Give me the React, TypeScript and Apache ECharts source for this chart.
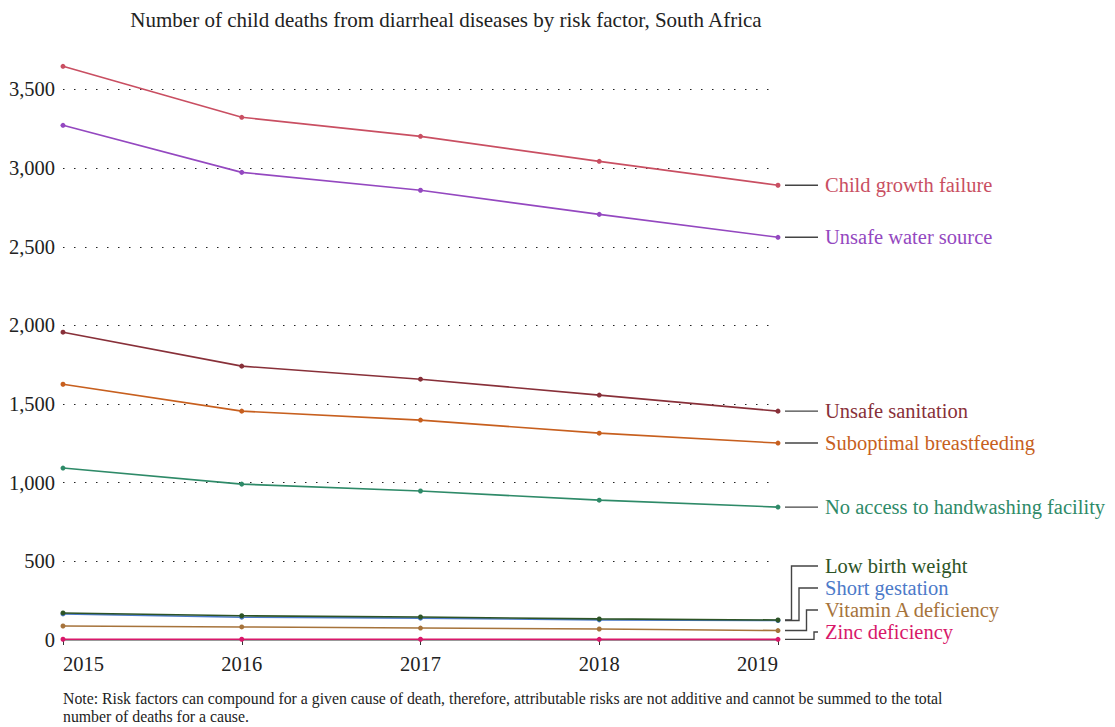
import React, { useEffect, useRef } from "react";
import * as echarts from "echarts";

const years = ["2015", "2016", "2017", "2018", "2019"];
const yTicks = [0, 500, 1000, 1500, 2000, 2500, 3000, 3500];

const childGrowth = [3647, 3323, 3202, 3043, 2891];
const unsafeWater = [3272, 2973, 2859, 2706, 2560];
const unsafeSanitation = [1957, 1741, 1658, 1557, 1455];
const breastfeeding = [1626, 1455, 1398, 1315, 1252];
const handwashing = [1093, 991, 947, 889, 845];
const lowBirthWeight = [172, 154, 146, 134, 127];
const shortGestation = [166, 145, 139, 128, 124];
const vitaminA = [89, 83, 76, 70, 60];
const zinc = [5, 5, 5, 4, 4];

const seriesNames = [
  "Child growth failure",
  "Unsafe water source",
  "Unsafe sanitation",
  "Suboptimal breastfeeding",
  "No access to handwashing facility",
  "Low birth weight",
  "Short gestation",
  "Vitamin A deficiency",
  "Zinc deficiency",
];
const seriesData = [
  childGrowth,
  unsafeWater,
  unsafeSanitation,
  breastfeeding,
  handwashing,
  lowBirthWeight,
  shortGestation,
  vitaminA,
  zinc,
];
const seriesColors = [
  "#C94F62",
  "#9448C0",
  "#883039",
  "#C75F1E",
  "#2E8A68",
  "#2D5426",
  "#4C7AC9",
  "#A6733B",
  "#D8186A",
];

const FONT = "Liberation Serif";

export default function App() {
  const ref = useRef<HTMLDivElement>(null);

  useEffect(() => {
    document.body.style.margin = "0";
    const el = ref.current!;
    const chart = echarts.init(el, undefined, { renderer: "svg" });

    const option: any = {
      animation: false,
      backgroundColor: "#ffffff",
      textStyle: { fontFamily: FONT },
      title: {
        text: "Number of child deaths from diarrheal diseases by risk factor, South Africa",
        left: 441,
        textAlign: "center",
        top: 4,
        textStyle: { fontFamily: FONT, fontSize: 21, fontWeight: "normal", color: "#222" },
      },
      grid: { left: 63, right: 337, top: 58, bottom: 87, containLabel: false },
      xAxis: {
        type: "category",
        data: years,
        boundaryGap: false,
        axisLine: { show: true, lineStyle: { color: "#999", width: 1 } },
        axisTick: { show: true, length: 5, lineStyle: { color: "#333" } },
        axisLabel: {
          fontFamily: FONT,
          fontSize: 20.5,
          color: "#222",
          margin: 13,
          alignMinLabel: "left",
          alignMaxLabel: "right",
        },
        splitLine: { show: false },
      },
      yAxis: {
        type: "value",
        min: 0,
        max: 3700,
        interval: 500,
        axisLine: { show: false },
        axisTick: { show: false },
        axisLabel: {
          fontFamily: FONT,
          fontSize: 20.5,
          color: "#222",
          margin: 8,
          showMaxLabel: false,
          formatter: (v: number) =>
            yTicks.indexOf(v) >= 0 ? v.toLocaleString("en-US") : "",
        },
        splitLine: {
          show: true,
          showMinLine: false,
          showMaxLine: false,
          lineStyle: { color: "#222", type: [1.5, 9.5], width: 1.2 },
        },
      },
      series: seriesNames.map((name, i) => ({
        name,
        type: "line",
        data: seriesData[i],
        symbol: "circle",
        symbolSize: 5,
        lineStyle: { width: 1.6, color: seriesColors[i] },
        itemStyle: { color: seriesColors[i] },
        z: 10 - i,
      })),
    };
    chart.setOption(option);

    // Build right-side labels with connectors from the library's scales
    const pts = seriesData.map((d, i) => {
      const p = chart.convertToPixel({ xAxisIndex: 0, yAxisIndex: 0 }, [
        d.length - 1,
        d[d.length - 1],
      ]) as number[];
      return { i, x: p[0], y: p[1] };
    });
    const sorted = [...pts].sort((a, b) => b.y - a.y); // bottom first
    const gap = 22;
    const zeroY = chart.convertToPixel({ yAxisIndex: 0 }, 0) as unknown as number;
    const bottomLimit = zeroY - 8;
    let prev = Infinity;
    const labelY: Record<number, number> = {};
    sorted.forEach((p) => {
      const ly = Math.min(p.y, prev - gap, bottomLimit);
      labelY[p.i] = ly;
      prev = ly;
    });
    const displaced = pts
      .filter((p) => Math.abs(labelY[p.i] - p.y) > 0.5)
      .sort((a, b) => labelY[a.i] - labelY[b.i]);
    const elements: any[] = [];
    pts.forEach((p) => {
      const ly = labelY[p.i];
      const sx = p.x + 7;
      const ex = p.x + 40;
      const k = displaced.findIndex((d) => d.i === p.i);
      let points: number[][];
      if (k >= 0) {
        const bx = sx + 6.5 + 7.5 * k;
        points = [
          [sx, p.y],
          [bx, p.y],
          [bx, ly],
          [ex, ly],
        ];
      } else {
        points = [
          [sx, p.y],
          [ex, p.y],
        ];
      }
      elements.push({
        type: "polyline",
        shape: { points },
        style: { stroke: "#444", lineWidth: 1.4, fill: null },
        z: 20,
      });
      elements.push({
        type: "text",
        x: ex + 7,
        y: ly,
        style: {
          text: seriesNames[p.i],
          fill: seriesColors[p.i],
          font: `20.5px "${FONT}"`,
          lineHeight: 21,
          verticalAlign: "middle",
          align: "left",
        },
        z: 20,
      });
    });
    elements.push({
      type: "text",
      x: 63,
      y: 690,
      style: {
        text:
          "Note: Risk factors can compound for a given cause of death, therefore, attributable risks are not additive and cannot be summed to the total\nnumber of deaths for a cause.",
        fill: "#222",
        font: `15.8px "${FONT}"`,
        lineHeight: 17.5,
        align: "left",
        verticalAlign: "top",
      },
    });
    chart.setOption({ graphic: { elements } });

    return () => chart.dispose();
  }, []);

  return <div ref={ref} style={{ width: 1115, height: 727 }} />;
}
